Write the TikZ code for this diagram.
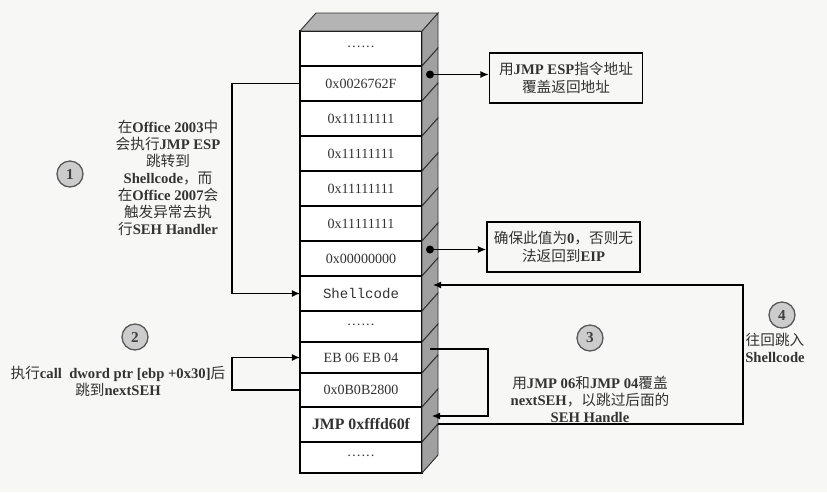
\documentclass[tikz,border=0pt]{standalone}
\usepackage{fontspec}
\setmainfont{Liberation Serif}
\setmonofont{Liberation Mono}
\newfontfamily\cjk{Noto Sans CJK SC}
\newcommand\zh[1]{{\cjk\mdseries #1}}
\usetikzlibrary{arrows.meta}

\definecolor{paper}{RGB}{247,247,245}
\definecolor{sidegray}{RGB}{160,160,160}
\definecolor{topgray}{RGB}{180,180,180}

\tikzset{
  cell/.style={draw, fill=white, minimum width=3.66cm, inner sep=0pt, outer sep=0pt,
    text=black!80, font=\fontsize{12}{14}\selectfont},
  side/.style={fill=sidegray, draw=black!80, line width=0.8pt},
  topface/.style={fill=topgray, draw=black!80, line width=0.8pt},
  note/.style={align=center, inner sep=0pt, text=black!80,
    font=\fontsize{12.5}{14.5}\selectfont\bfseries},
  infobox/.style={draw, line width=1.2pt, minimum width=4.6cm, minimum height=1.5cm,
    align=center, inner sep=2pt, text=black!80,
    font=\fontsize{12.5}{15}\selectfont\bfseries},
  step circle/.style={circle, draw=gray!70!black, fill=gray!40, line width=1.1pt,
    minimum size=0.78cm, inner sep=0pt, text=black!75, font=\fontsize{13}{13}\selectfont\bfseries}
}

\begin{document}
\begin{tikzpicture}[x=0.03cm, y=-0.03cm, >={Latex[length=7pt,width=6pt]}, line width=1pt]
    % Paper and fixed frame
    \fill[paper] (0,0) rectangle (827,492);

    % Stack cells with the grey side face
    \foreach \n/\yt/\yb/\txt in {
        1/31/66/{······},
        2/66/101/0x0026762F,
        3/101/136/0x11111111,
        4/136/171/0x11111111,
        5/171/206/0x11111111,
        6/206/241/0x11111111,
        7/241/276/0x00000000,
        8/276/311/{\ttfamily Shellcode},
        9/311/342/{······},
        10/342/373/EB 06 EB 04,
        11/373/407/0x0B0B2800,
        12/407/442/{\fontsize{13.5}{14}\selectfont\bfseries JMP 0xfffd60f},
        13/442/473/{······}}
    {
        \pgfmathsetmacro\h{(\yb-\yt)*0.03}
        \node[cell, minimum height=\h cm] (r\n) at (361,{(\yt+\yb)/2}) {\txt};
        \filldraw[side] (r\n.north east) -- ++(16,-18) -- ++(0,\yb-\yt) -- (r\n.south east) -- cycle;
    }
    \filldraw[topface] (r1.north west) -- ++(16,-18) -- ++(122,0) -- (r1.north east) -- cycle;

    % Points on the side face
    \coordinate (s2) at (430,74.5);
    \coordinate (s7) at (430,249.5);
    \coordinate (s8) at (433,285);
    \coordinate (s10) at (430,349);
    \coordinate (s12) at (432,416);
    \coordinate (j12) at (438,424);

    % Boxes on the right
    \node[infobox] (b1) at (566,78) {\zh{用}JMP ESP\zh{指令地址}\\ \zh{覆盖返回地址}};
    \node[infobox] (b2) at (563.5,247) {\zh{确保此值为}0\zh{，否则无}\\ \zh{法返回到}EIP};

    \fill (s2) circle (4);
    \fill (s7) circle (4);
    \draw[->] (s2) -- (s2 -| b1.west);
    \draw[->] (s7) -- (s7 -| b2.west);

    % Step 1
    \node[step circle] (c1) at (70,174) {1};
    \node[note] (t1) at (168,177.5) {\zh{在}Office 2003\zh{中}\\ \zh{会执行}JMP ESP\\ \zh{跳转到}\\
        Shellcode\zh{，而}\\ \zh{在}Office 2007\zh{会}\\ \zh{触发异常去执}\\ \zh{行}SEH Handler};
    \draw[->] (r2.west) -- ++(-68,0) |- (r8.west);

    % Step 2
    \node[step circle] (c2) at (135,337) {2};
    \node[note] (t2) at (118,381) {\zh{执行}call\ \ dword ptr [ebp +0x30]\zh{后}\\ \zh{跳到}nextSEH};
    \draw[->] (r11.west) -- ++(-68,0) |- (r10.west);

    % Step 3
    \node[step circle] (c3) at (590,338) {3};
    \node[note] (t3) at (590,399.5) {\zh{用}JMP 06\zh{和}JMP 04\zh{覆盖}\\ nextSEH\zh{，以跳过后面的}\\ SEH Handle};
    \draw[->] (s10) -- ++(58,0) |- (s12);

    % Step 4
    \node[step circle] (c4) at (782,315) {4};
    \node[note] (t4) at (775,347.5) {\zh{往回跳入}\\ Shellcode};
    \draw[->] (j12) -- ++(305,0) |- (s8);
\end{tikzpicture}
\end{document}
